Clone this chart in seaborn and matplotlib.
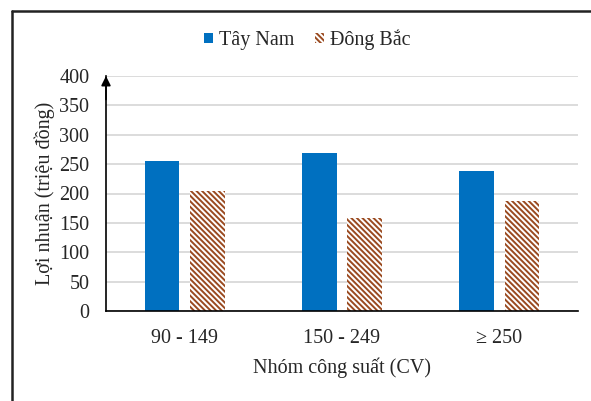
import matplotlib
matplotlib.use("Agg")
import matplotlib.pyplot as plt
import seaborn as sns
import pandas as pd
from matplotlib.lines import Line2D
from matplotlib.patches import Patch

categories = ["90 - 149", "150 - 249", "≥ 250"]
series_names = ["Tây Nam", "Đông Bắc"]
tay_nam = [255, 269, 239]
dong_bac = [204, 158, 187]
y_ticks = [0, 50, 100, 150, 200, 250, 300, 350, 400]

df = pd.DataFrame({
    "cat": categories * 2,
    "series": [series_names[0]] * 3 + [series_names[1]] * 3,
    "value": tay_nam + dong_bac,
})

sns.set_style("white")
plt.rcParams["font.family"] = ["Liberation Serif", "DejaVu Serif"]
plt.rcParams["hatch.linewidth"] = 1.4

BLUE = "#0070C0"
BROWN = "#9A4A20"
FS = 14.5
HATCH = "\\" * 6

fig = plt.figure(figsize=(5.91, 4.01), dpi=100)
ax = fig.add_axes([106 / 591, 1 - 311 / 401, (578 - 106) / 591, (311 - 76) / 401])

sns.barplot(data=df, x="cat", y="value", hue="series", order=categories,
            hue_order=series_names, palette=[BLUE, "white"], width=0.58,
            gap=0.24, ax=ax, legend=False, saturation=1)

n = len(categories)
for i, p in enumerate(ax.patches):
    if i < n:
        p.set_facecolor(BLUE)
        p.set_edgecolor(BLUE)
        p.set_linewidth(0)
    else:
        p.set_facecolor("white")
        p.set_edgecolor(BROWN)
        p.set_hatch(HATCH)
        p.set_linewidth(0)

ax.set_xlim(-0.5, 2.5)
ax.set_ylim(0, 400)
ax.set_yticks(y_ticks)
ax.set_yticklabels([str(t) for t in y_ticks], fontsize=FS)
ax.set_xticks([0, 1, 2, 2.5])
ax.set_xticklabels(categories + [""], fontsize=FS)
ax.tick_params(axis="x", length=5, width=1, color="black", direction="out", pad=8)
ax.tick_params(axis="y", length=5, width=1, color="black", direction="out", pad=7)
ax.yaxis.grid(True, color="#D9D9D9", linewidth=1.3)
ax.set_axisbelow(True)

for s in ["top", "right"]:
    ax.spines[s].set_visible(False)
for s in ["left", "bottom"]:
    ax.spines[s].set_color("black")
    ax.spines[s].set_linewidth(1.2)

ax.annotate("", xy=(0, 1.0), xytext=(0, 0.9), xycoords="axes fraction",
            arrowprops=dict(arrowstyle="-|>", color="black", lw=1.2,
                            mutation_scale=14, shrinkA=0, shrinkB=0))

ax.set_xlabel("Nhóm công suất (CV)", fontsize=FS, labelpad=7)
ax.set_ylabel("Lợi nhuận (triệu đồng)", fontsize=FS, labelpad=3)

handles = [Patch(facecolor=BLUE, edgecolor=BLUE, linewidth=0),
           Patch(facecolor="white", edgecolor=BROWN, hatch=HATCH, linewidth=0)]
fig.legend(handles, series_names, loc="center", bbox_to_anchor=(307 / 591, 1 - 40 / 401),
           ncol=2, frameon=False, fontsize=FS, handlelength=0.45, handleheight=0.45,
           handletextpad=0.3, columnspacing=1.0)

fig.add_artist(Line2D([12 / 591, 12 / 591], [0, 1 - 11 / 401], transform=fig.transFigure,
                      color="#222222", linewidth=1.8))
fig.add_artist(Line2D([12 / 591, 1], [1 - 11 / 401, 1 - 11 / 401], transform=fig.transFigure,
                      color="#222222", linewidth=1.8))

fig.savefig("out.png", dpi=100)
